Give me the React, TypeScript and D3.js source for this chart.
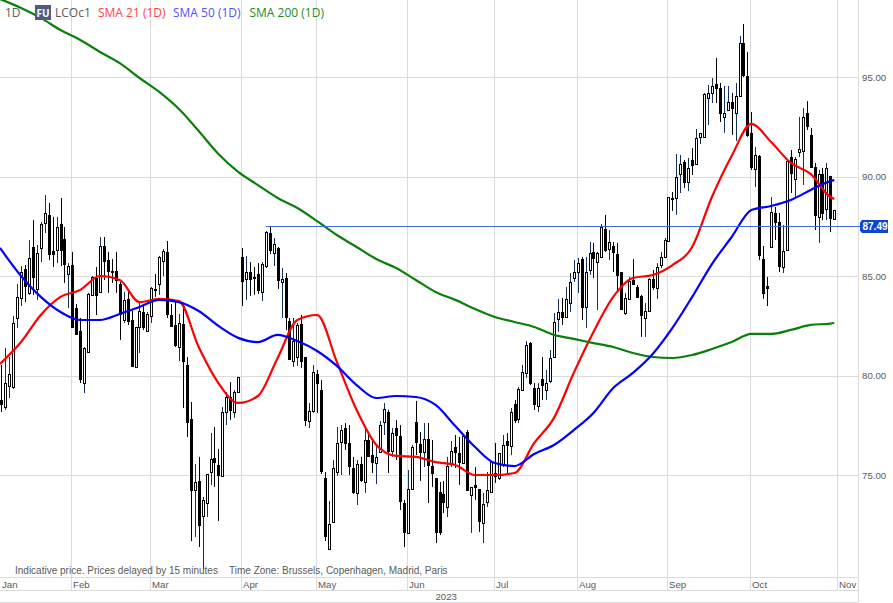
import * as d3 from "d3";

const width = 893;
const height = 603;

// daily bars
const opens = [
  78.77, 78.42, 79.47, 79.42, 82.89, 83.9, 85.35, 84.15, 86.46, 84.35,
  86.41, 87.66, 88.07, 86.26, 86.31, 87.61, 86.86, 85.1, 85.55, 83.39,
  82.24, 79.62, 81.18, 84.05, 84.9, 84.2, 86.51, 85.8, 85.25, 85.25,
  84.6, 82.79, 83.85, 82.79, 80.43, 82.44, 83.19, 82.24, 82.99, 84.35,
  84.6, 85.75, 86.21, 83.04, 82.54, 81.43, 82.59, 80.53, 77.81, 74.25,
  74.7, 72.94, 73.59, 75.15, 75.86, 75.5, 74.95, 78.17, 78.92, 78.17,
  79.17, 85.96, 84.85, 85.2, 84.95, 85.1, 84.2, 85.5, 87.16, 86.16,
  86.41, 84.7, 84.9, 82.74, 80.73, 80.93, 82.59, 80.93, 77.71, 78.22,
  80.08, 79.27, 74.85, 71.28, 72.64, 75.15, 76.66, 77.36, 76.61, 75.35,
  74.1, 75.55, 74.65, 76.76, 76.0, 75.6, 76.16, 77.66, 78.17, 76.21,
  77.36, 76.96, 73.59, 72.09, 74.3, 77.66, 76.56, 76.16, 76.81, 75.45,
  74.85, 74.15, 74.05, 73.39, 75.6, 76.41, 76.11, 75.6, 77.16, 74.0,
  74.5, 74.3, 72.59, 73.64, 74.15, 75.1, 74.85, 75.5, 76.71, 76.46,
  78.57, 77.81, 79.27, 80.13, 81.63, 79.37, 78.47, 79.82, 79.27, 79.72,
  80.93, 82.84, 83.19, 82.94, 83.64, 84.9, 85.2, 85.85, 83.44, 85.3,
  86.21, 85.7, 85.96, 87.36, 86.36, 86.51, 86.11, 85.2, 83.14, 83.85,
  84.8, 84.45, 84.0, 82.89, 83.24, 84.85, 84.4, 85.55, 85.96, 86.76,
  88.92, 88.92, 90.13, 90.73, 89.72, 90.83, 90.63, 91.99, 91.99, 93.95,
  94.2, 94.65, 94.45, 92.99, 93.34, 93.74, 93.19, 94.05, 96.71, 95.05,
  92.19, 90.38, 91.03, 85.85, 84.5, 86.46, 88.17, 87.71, 85.45, 86.31,
  90.98, 89.88, 91.23, 91.28, 93.19, 92.09, 90.48, 87.97, 90.13, 88.37,
  90.03, 87.87,
];
const highs = [
  80.53, 81.38, 80.93, 82.99, 84.6, 85.5, 85.55, 86.81, 87.81, 86.56,
  87.71, 89.07, 88.67, 87.97, 87.97, 88.92, 87.46, 85.65, 86.21, 83.59,
  82.89, 81.43, 84.15, 85.0, 85.45, 86.96, 86.96, 86.21, 85.85, 86.21,
  84.7, 84.2, 84.2, 83.24, 82.44, 83.64, 83.54, 83.19, 84.45, 85.1,
  86.01, 86.36, 86.76, 83.59, 83.74, 83.09, 83.64, 80.93, 78.67, 75.55,
  75.91, 73.9, 75.05, 77.11, 77.41, 76.31, 78.42, 79.17, 79.67, 79.27,
  79.93, 86.41, 86.01, 85.7, 85.45, 85.65, 85.7, 87.26, 87.46, 86.91,
  86.46, 85.4, 85.15, 82.89, 82.89, 82.64, 83.04, 80.93, 78.62, 80.53,
  80.28, 79.77, 75.15, 73.69, 75.75, 77.41, 77.51, 77.61, 77.51, 75.91,
  75.75, 75.91, 77.31, 77.01, 76.81, 76.46, 77.71, 78.62, 78.27, 77.36,
  77.76, 77.51, 73.74, 75.25, 76.51, 78.72, 77.16, 77.61, 77.61, 76.76,
  74.85, 74.65, 74.7, 75.91, 76.71, 77.01, 76.91, 77.06, 77.26, 74.4,
  75.4, 74.3, 74.1, 75.15, 75.65, 76.61, 76.11, 77.01, 77.11, 78.37,
  78.77, 79.42, 80.53, 81.73, 81.68, 79.62, 79.62, 80.93, 80.28, 81.28,
  83.14, 83.85, 83.9, 84.45, 85.15, 85.8, 85.91, 85.96, 85.96, 86.71,
  86.66, 86.21, 87.61, 88.07, 87.31, 86.71, 86.66, 85.2, 84.15, 84.95,
  85.85, 84.55, 84.05, 83.64, 84.9, 85.3, 85.65, 86.21, 86.91, 88.97,
  89.22, 91.13, 91.08, 90.83, 90.93, 91.43, 92.39, 92.19, 94.2, 94.6,
  94.95, 95.96, 94.7, 94.55, 94.55, 94.2, 94.7, 97.06, 97.66, 96.26,
  93.24, 91.48, 91.08, 86.51, 84.95, 88.97, 88.47, 88.17, 87.56, 90.83,
  91.33, 90.98, 92.99, 93.44, 93.79, 92.44, 90.68, 90.33, 90.43, 90.68,
  90.03, 88.32,
];
const lows = [
  78.17, 78.27, 78.87, 79.32, 82.39, 83.49, 83.69, 84.05, 84.05, 83.8,
  85.7, 87.16, 85.8, 85.45, 85.65, 85.5, 84.65, 83.39, 82.39, 82.04,
  79.62, 79.12, 81.18, 84.05, 83.04, 84.15, 84.8, 84.15, 84.65, 84.15,
  81.79, 82.64, 82.54, 80.43, 80.38, 81.13, 82.29, 82.19, 82.64, 83.95,
  84.05, 85.0, 82.89, 82.44, 81.43, 80.73, 78.37, 76.91, 71.68, 71.88,
  71.38, 70.23, 72.89, 74.5, 74.4, 72.69, 74.95, 77.51, 77.77, 77.87,
  79.12, 83.49, 83.8, 84.0, 84.05, 84.1, 83.74, 85.4, 86.11, 85.5,
  84.35, 82.89, 82.29, 80.78, 80.43, 80.48, 80.38, 77.46, 77.36, 78.12,
  78.12, 75.05, 71.68, 71.28, 72.64, 74.95, 75.0, 76.26, 75.0, 74.05,
  73.49, 74.65, 74.1, 75.91, 75.1, 74.55, 76.11, 77.01, 75.1, 75.91,
  75.75, 73.24, 71.38, 72.09, 74.25, 76.0, 74.7, 75.4, 73.59, 74.4,
  71.58, 71.99, 73.09, 72.89, 75.4, 75.35, 74.5, 75.6, 74.2, 72.09,
  73.74, 72.14, 71.58, 73.39, 74.1, 74.6, 74.75, 75.4, 75.1, 76.0,
  77.61, 77.61, 79.27, 79.88, 79.52, 78.27, 78.17, 78.77, 78.77, 79.62,
  80.88, 82.19, 82.54, 82.89, 83.19, 84.7, 84.15, 82.79, 82.39, 85.05,
  84.9, 83.29, 85.96, 86.21, 85.8, 85.2, 84.3, 83.29, 83.04, 83.8,
  84.55, 83.9, 81.94, 81.94, 83.19, 84.3, 83.85, 85.4, 85.96, 86.76,
  88.27, 88.07, 89.17, 89.42, 89.27, 90.08, 90.63, 91.63, 91.99, 92.59,
  93.69, 93.69, 92.74, 92.19, 93.29, 92.09, 91.78, 94.0, 95.0, 91.99,
  90.33, 89.47, 85.8, 83.85, 83.49, 86.41, 86.81, 85.2, 85.15, 86.26,
  89.17, 88.97, 90.98, 89.57, 92.34, 90.43, 87.31, 86.66, 87.81, 87.81,
  87.21, 87.87,
];
const closes = [
  78.52, 79.62, 80.08, 82.64, 83.95, 85.2, 84.45, 85.91, 84.9, 86.16,
  87.61, 88.17, 86.06, 86.06, 87.46, 86.26, 85.55, 85.5, 82.39, 82.04,
  79.77, 81.38, 84.1, 84.95, 84.0, 86.51, 85.7, 85.2, 85.15, 84.75,
  83.04, 83.8, 82.69, 80.43, 82.44, 83.24, 82.39, 83.09, 84.4, 84.25,
  85.96, 86.26, 83.04, 82.44, 81.48, 82.64, 80.68, 77.61, 74.2, 74.65,
  72.44, 73.74, 75.05, 75.8, 75.6, 74.95, 78.17, 78.92, 78.22, 79.17,
  79.93, 84.7, 85.2, 84.8, 84.85, 84.25, 85.6, 87.21, 86.26, 86.61,
  84.75, 84.85, 82.89, 80.78, 81.74, 82.54, 80.68, 77.71, 78.22, 80.18,
  79.57, 75.15, 71.88, 72.54, 75.35, 76.61, 77.26, 76.56, 75.4, 74.1,
  75.55, 74.7, 76.76, 75.91, 75.6, 75.91, 77.51, 78.32, 76.16, 77.11,
  76.96, 73.64, 72.09, 74.3, 76.41, 76.61, 76.11, 76.81, 75.45, 75.05,
  72.09, 72.09, 73.59, 75.45, 76.21, 76.11, 75.6, 76.96, 74.2, 74.4,
  74.35, 72.64, 73.54, 74.25, 75.65, 74.9, 76.11, 76.51, 76.46, 78.17,
  77.71, 79.32, 80.18, 81.53, 79.57, 78.52, 79.37, 79.47, 79.62, 80.88,
  82.69, 83.19, 82.89, 83.85, 84.7, 85.2, 85.65, 83.39, 85.2, 86.16,
  85.85, 86.16, 87.46, 86.26, 86.71, 86.16, 85.0, 83.29, 83.9, 84.75,
  84.55, 83.9, 82.99, 83.24, 84.85, 84.4, 85.45, 85.96, 86.81, 88.97,
  88.87, 89.98, 90.63, 89.67, 90.43, 90.53, 91.94, 92.19, 94.15, 94.2,
  94.55, 94.4, 93.14, 93.19, 93.74, 93.39, 94.05, 96.71, 95.05, 92.04,
  90.43, 91.08, 86.01, 84.1, 84.35, 88.22, 87.66, 85.45, 86.26, 90.78,
  90.13, 90.88, 91.38, 92.99, 92.49, 90.43, 88.02, 90.13, 88.12, 90.43,
  87.87, 88.32,
];

// moving averages, read every 5th bar
const smaBars = [
  -0.33, 5, 10, 15, 20, 25, 30, 35, 40, 45, 50, 55, 60, 65, 70, 75, 80, 85, 90, 95,
  100, 105, 110, 115, 120, 125, 130, 135, 140, 145, 150, 155, 160, 165, 170,
  175, 180, 185, 190, 195, 200, 205, 210, 211,
];
const sma21 = [
  80.58, 81.68, 83.04, 83.95, 84.3, 85.0, 84.8, 83.69, 83.85, 83.74,
  81.43, 79.62, 78.62, 78.97, 80.88, 82.79, 83.04, 80.68, 78.27, 76.51,
  75.96, 75.91, 75.65, 75.5, 75.0, 75.0, 75.1, 76.61, 77.87, 80.13,
  82.19, 83.95, 84.9, 85.05, 85.55, 86.46, 88.97, 91.03, 92.64, 91.73,
  90.68, 90.13, 88.97, 88.87,
];
const sma50 = [
  86.41, 85.0, 83.95, 83.19, 82.79, 82.79, 83.09, 83.44, 83.8, 83.69,
  83.24, 82.49, 81.89, 81.68, 82.04, 81.73, 81.23, 80.48, 79.52, 78.87,
  78.97, 78.92, 78.52, 77.46, 76.41, 75.6, 75.45, 76.06, 76.51, 77.26,
  78.12, 79.37, 80.13, 81.08, 82.39, 83.95, 85.6, 86.96, 88.32, 88.52,
  88.82, 89.32, 89.77, 89.82,
];
const sma200 = [
  98.92, 98.47, 97.97, 97.36, 96.86, 96.26, 95.7, 94.95, 94.25, 93.39,
  92.29, 91.13, 90.23, 89.57, 88.92, 88.42, 87.76, 87.06, 86.46, 85.85,
  85.4, 84.8, 84.2, 83.8, 83.34, 82.94, 82.69, 82.44, 82.04, 81.84,
  81.63, 81.43, 81.13, 80.93, 80.88, 81.03, 81.33, 81.68, 82.09, 82.09,
  82.29, 82.54, 82.61, 82.64,
];

const priceTicks = [75, 80, 85, 90, 95];
const monthLabels = ["Jan", "Feb", "Mar", "Apr", "May", "Jun", "Jul", "Aug", "Sep", "Oct", "Nov"];
// bar position of each month start
const monthStarts = [-0.33, 17.65, 37.7, 60.7, 79.7, 102.8, 124.8, 145.8, 168.6, 189.6, 211.7];
const lastPrice = 87.49;
const lastPriceBar = 67;

const plotRight = 858;
const axisTop = 577;
const monthBottom = 590;
const yearBottom = 602;

const sansFont = "'Liberation Sans', Arial, sans-serif";
const legendFont = "'Open Sans', sans-serif";
const gridColor = "#dcdcdc";
const textColor = "#5a5a5a";

const x = d3.scaleLinear().domain([0, 211]).range([1.3, 834.3]);
const y = d3.scaleLinear().domain([75, 95]).range([475, 77]);

function Candles() {
  return (
    <g>
      {opens.map((open, i) => {
        const up = closes[i] > open;
        const cx = Math.round(x(i)) + 0.5;
        const top = y(Math.max(open, closes[i]));
        const bottom = y(Math.min(open, closes[i]));
        return (
          <g key={i}>
            <line
              x1={cx}
              x2={cx}
              y1={y(highs[i])}
              y2={y(lows[i])}
              stroke={up ? "#13315c" : "#000"}
            />
            {up ? (
              <rect
                x={cx - 1}
                y={Math.round(top) + 0.5}
                width={2}
                height={Math.max(1, Math.round(bottom - top))}
                fill="#fff"
                stroke="#000"
              />
            ) : (
              <rect
                x={cx - 1.5}
                y={Math.round(top)}
                width={3}
                height={Math.max(2, Math.round(bottom - top))}
                fill="#000"
              />
            )}
          </g>
        );
      })}
    </g>
  );
}

function SmaLine({ values, color }: { values: number[]; color: string }) {
  const line = d3
    .line<number>()
    .x((_, i) => x(smaBars[i]))
    .y((v) => y(v))
    .curve(d3.curveMonotoneX);
  return <path d={line(values) ?? ""} fill="none" stroke={color} strokeWidth={2.2} />;
}

export default function App() {
  const labelY = y(lastPrice);
  const legend = [
    { text: "SMA 21 (1D)", at: 98, color: "#ff4040" },
    { text: "SMA 50 (1D)", at: 173, color: "#4f4fff" },
    { text: "SMA 200 (1D)", at: 249.5, color: "#1e8a1e" },
  ];
  return (
    <svg
      width={width}
      height={height}
      viewBox={`0 0 ${width} ${height}`}
      style={{ position: "absolute", left: 0, top: 0, background: "#fff" }}
    >
      <g stroke={gridColor}>
        {priceTicks.map((p) => (
          <line key={p} x1={0} x2={plotRight} y1={Math.round(y(p)) + 0.5} y2={Math.round(y(p)) + 0.5} />
        ))}
        {monthStarts.slice(1).map((m) => (
          <line
            key={m}
            x1={Math.round(x(m)) + 0.5}
            x2={Math.round(x(m)) + 0.5}
            y1={0}
            y2={monthBottom}
          />
        ))}
        <line x1={plotRight + 0.5} x2={plotRight + 0.5} y1={0} y2={yearBottom} />
        <line x1={0} x2={plotRight} y1={axisTop + 0.5} y2={axisTop + 0.5} />
        <line x1={0} x2={plotRight} y1={monthBottom + 0.5} y2={monthBottom + 0.5} />
        <line x1={0} x2={plotRight} y1={yearBottom + 0.5} y2={yearBottom + 0.5} />
      </g>

      <Candles />

      <SmaLine values={sma21} color="#ff0000" />
      <SmaLine values={sma200} color="#0a800a" />
      <SmaLine values={sma50} color="#0000ff" />

      <line
        x1={x(lastPriceBar)}
        x2={861}
        y1={Math.round(labelY) + 0.5}
        y2={Math.round(labelY) + 0.5}
        stroke="#3b6be8"
        strokeWidth={1.2}
      />

      <g fontFamily={sansFont} fontSize={9.7} fill={textColor}>
        {priceTicks.map((p) => (
          <text key={p} x={862} y={y(p) + 3.5}>
            {d3.format(".2f")(p)}
          </text>
        ))}
        {monthLabels.map((label, i) => (
          <text key={label} x={Math.round(x(monthStarts[i])) + 2} y={588}>
            {label}
          </text>
        ))}
        <text x={457} y={600} textAnchor="end">
          2023
        </text>
        <text x={15} y={574} fontSize={10}>
          Indicative price. Prices delayed by 15 minutes
        </text>
        <text x={229} y={574} fontSize={10}>
          Time Zone: Brussels, Copenhagen, Madrid, Paris
        </text>
      </g>

      <path
        d={`M860,${labelY - 4} L862,${labelY - 6.5} H888 V${labelY + 6.5} H862 L860,${labelY + 4} Z`}
        fill="#0f45c8"
      />
      <text
        x={875}
        y={labelY + 3.7}
        textAnchor="middle"
        fontFamily={sansFont}
        fontSize={10}
        fontWeight="bold"
        fill="#fff"
      >
        {d3.format(".2f")(lastPrice)}
      </text>

      <g fontFamily={legendFont} fontSize={12}>
        <text x={5} y={17} fill={textColor}>
          1D
        </text>
        <rect x={35} y={5} width={16} height={15} fill="#4f5c80" />
        <text x={43} y={16.5} textAnchor="middle" fontSize={10} fontWeight="bold" fill="#fff">
          FU
        </text>
        <text x={55} y={17} fill={textColor}>
          LCOc1
        </text>
        {legend.map((d) => (
          <text key={d.text} x={d.at} y={17} fill={d.color}>
            {d.text}
          </text>
        ))}
      </g>
    </svg>
  );
}
